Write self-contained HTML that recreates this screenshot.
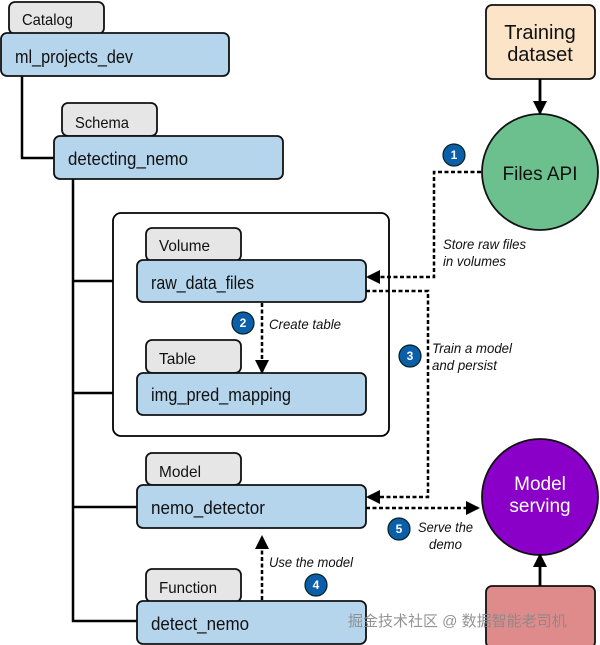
<!DOCTYPE html>
<html><head><meta charset="utf-8"><style>
html,body{margin:0;padding:0;background:#fff;}
svg{display:block;font-family:"Liberation Sans","Noto Sans CJK SC",sans-serif;}
.n{font-size:18px;fill:#111;}
.t{font-size:16px;fill:#111;}
.i{font-size:14px;font-style:italic;fill:#111;}
.c{font-size:12px;font-weight:bold;fill:#fff;}
</style></head><body>
<svg width="600" height="645" viewBox="0 0 600 645">
<defs>
<marker id="b" markerWidth="14" markerHeight="14" refX="12" refY="7" orient="auto" markerUnits="userSpaceOnUse"><path d="M0,0 L14,7 L0,14 z" fill="#000"/></marker>
</defs>
<g stroke="#000" stroke-width="2.5" fill="none">
<path d="M22 76 V158 H54"/>
<path d="M73 179 V621 H137 M73 281 H137 M73 393 H137 M73 507 H137"/>
</g>
<rect x="113" y="213" width="276" height="223" rx="8" fill="#fff" stroke="#000" stroke-width="1.8"/>
<g stroke="#111" stroke-width="1.8">
<rect x="9" y="2" width="95" height="32" rx="6" fill="#e6e6e6"/>
<rect x="1" y="33" width="228" height="43" rx="6" fill="#b5d5ec"/>
<rect x="62" y="103" width="95" height="33" rx="6" fill="#e6e6e6"/>
<rect x="54" y="136" width="229" height="43" rx="6" fill="#b5d5ec"/>
<rect x="146" y="228" width="95" height="33" rx="6" fill="#e6e6e6"/>
<rect x="137" y="260" width="229" height="42" rx="6" fill="#b5d5ec"/>
<rect x="146" y="340" width="95" height="33" rx="6" fill="#e6e6e6"/>
<rect x="137" y="373" width="229" height="42" rx="6" fill="#b5d5ec"/>
<rect x="146" y="453" width="95" height="32" rx="6" fill="#e6e6e6"/>
<rect x="137" y="485" width="229" height="43" rx="6" fill="#b5d5ec"/>
<rect x="146" y="569" width="95" height="33" rx="6" fill="#e6e6e6"/>
<rect x="137" y="601" width="229" height="43" rx="6" fill="#b5d5ec"/>
<rect x="486" y="5" width="109" height="74" rx="6" fill="#fbe4c8"/>
<circle cx="540" cy="172" r="58" fill="#6cc08d"/>
<circle cx="540" cy="497" r="58" fill="#8a00c8"/>
<rect x="486" y="586" width="109" height="62" rx="6" fill="#e08b8b"/>
</g>
<text class="t" x="22" y="25" textLength="51" lengthAdjust="spacingAndGlyphs">Catalog</text>
<text class="n" x="15" y="63" textLength="118" lengthAdjust="spacingAndGlyphs">ml_projects_dev</text>
<text class="t" x="75" y="128" textLength="54" lengthAdjust="spacingAndGlyphs">Schema</text>
<text class="n" x="68" y="165" textLength="120" lengthAdjust="spacingAndGlyphs">detecting_nemo</text>
<text class="t" x="159" y="251" textLength="51" lengthAdjust="spacingAndGlyphs">Volume</text>
<text class="n" x="151" y="289" textLength="103" lengthAdjust="spacingAndGlyphs">raw_data_files</text>
<text class="t" x="159" y="364" textLength="37" lengthAdjust="spacingAndGlyphs">Table</text>
<text class="n" x="151" y="401" textLength="140" lengthAdjust="spacingAndGlyphs">img_pred_mapping</text>
<text class="t" x="159" y="477" textLength="42" lengthAdjust="spacingAndGlyphs">Model</text>
<text class="n" x="151" y="514" textLength="114" lengthAdjust="spacingAndGlyphs">nemo_detector</text>
<text class="t" x="159" y="593" textLength="58" lengthAdjust="spacingAndGlyphs">Function</text>
<text class="n" x="151" y="630" textLength="98" lengthAdjust="spacingAndGlyphs">detect_nemo</text>
<text x="540" y="39" text-anchor="middle" font-size="20" fill="#111">Training</text>
<text x="540" y="61" text-anchor="middle" font-size="20" fill="#111">dataset</text>
<text x="540" y="180" text-anchor="middle" font-size="19" fill="#111">Files API</text>
<text x="540" y="490" text-anchor="middle" font-size="19" fill="#fff">Model</text>
<text x="540" y="512" text-anchor="middle" font-size="19" fill="#fff">serving</text>
<g stroke="#000" stroke-width="2.8" fill="none">
<path d="M540 79 V113" marker-end="url(#b)"/>
<path d="M540 586 V555" marker-end="url(#b)"/>
</g>
<g stroke="#000" stroke-width="2.5" fill="none" stroke-dasharray="4,2.5">
<path d="M481 172 H434 V277 H368" marker-end="url(#b)"/>
<path d="M366 291 H428 V497 H368" marker-end="url(#b)"/>
<path d="M366 508 H478" marker-end="url(#b)"/>
<path d="M262 303 V372" marker-end="url(#b)"/>
<path d="M262 600 V537" marker-end="url(#b)"/>
</g>
<g fill="#0a5fa8" stroke="#022" stroke-width="1.2">
<circle cx="454" cy="155" r="11"/><circle cx="243" cy="323" r="11"/><circle cx="410" cy="356" r="11"/><circle cx="316" cy="585" r="11"/><circle cx="399" cy="529" r="11"/>
</g>
<text class="c" x="454" y="159" text-anchor="middle">1</text>
<text class="c" x="243" y="327" text-anchor="middle">2</text>
<text class="c" x="410" y="360" text-anchor="middle">3</text>
<text class="c" x="316" y="589" text-anchor="middle">4</text>
<text class="c" x="399" y="533" text-anchor="middle">5</text>
<text class="i" x="443" y="249" textLength="83" lengthAdjust="spacingAndGlyphs">Store raw files</text>
<text class="i" x="443" y="266" textLength="63" lengthAdjust="spacingAndGlyphs">in volumes</text>
<text class="i" x="269" y="329" textLength="72" lengthAdjust="spacingAndGlyphs">Create table</text>
<text class="i" x="432" y="353" textLength="80" lengthAdjust="spacingAndGlyphs">Train a model</text>
<text class="i" x="432" y="370" textLength="65" lengthAdjust="spacingAndGlyphs">and persist</text>
<text class="i" x="418" y="532" textLength="55" lengthAdjust="spacingAndGlyphs">Serve the</text>
<text class="i" x="429" y="549" textLength="33" lengthAdjust="spacingAndGlyphs">demo</text>
<text class="i" x="269" y="567" textLength="84" lengthAdjust="spacingAndGlyphs">Use the model</text>
<text x="348" y="626" font-size="15" fill="#888" opacity="0.9">掘金技术社区 @ 数据智能老司机</text>
</svg>
</body></html>
